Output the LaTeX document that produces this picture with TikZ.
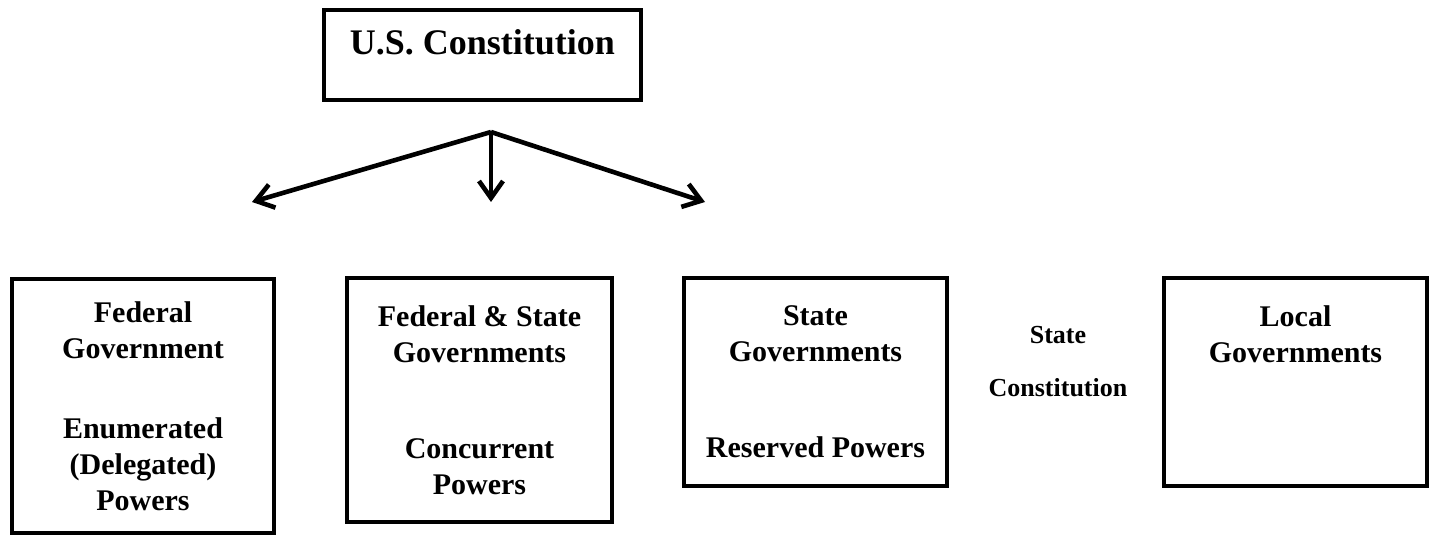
\documentclass[tikz,border=0pt]{standalone}
\usepackage{fontspec}
\setmainfont{Liberation Serif}
\usepackage{tikz}
\usetikzlibrary{
	positioning,
	arrows.meta
}

\begin{document}
\begin{tikzpicture}[
		x=0.5pt, y=-0.5pt,
		>={Straight Barb[length=8.5pt,width=12pt]},
		box/.style={draw, line width=2pt, align=center, inner sep=0pt,
			font=\fontsize{15}{18}\selectfont\bfseries},
		every edge/.style={draw, line width=2.3pt}
	]
		\useasboundingbox (0,0) rectangle (1437,535);

		\coordinate (top)   at (491,132);
		\coordinate (left)  at (252,202);
		\coordinate (mid)   at (491,202);
		\coordinate (right) at (705,202);

		\draw
			(482.5,55) node[box,minimum width=158.5pt,minimum height=45pt,
				text height=12pt,text depth=12pt,
				font=\fontsize{18}{22}\selectfont\bfseries]          (usc)   {U.S. Constitution}
			(143,406)  node[box,minimum width=131pt,minimum height=127pt]   (fed)   {Federal\\Government\\[22pt]Enumerated\\(Delegated)\\Powers}
			(479.5,400) node[box,minimum width=132.5pt,minimum height=122pt] (both)  {Federal \& State\\Governments\\[30pt]Concurrent\\Powers}
			(815.5,382) node[box,minimum width=131.5pt,minimum height=104pt] (state) {State\\Governments\\[30pt]Reserved Powers}
			(1295.5,382) node[box,minimum width=131.5pt,minimum height=104pt] (local) {Local\\Governments\\[30pt]\mbox{}}
			(1058,362) node[align=center,
				font=\fontsize{13}{26.5}\selectfont\bfseries]        (stcon) {State\\Constitution}

			(top) edge[->] (left)
			(top) edge[->] (mid)
			(top) edge[->] (right)
		;
	\end{tikzpicture}
\end{document}
